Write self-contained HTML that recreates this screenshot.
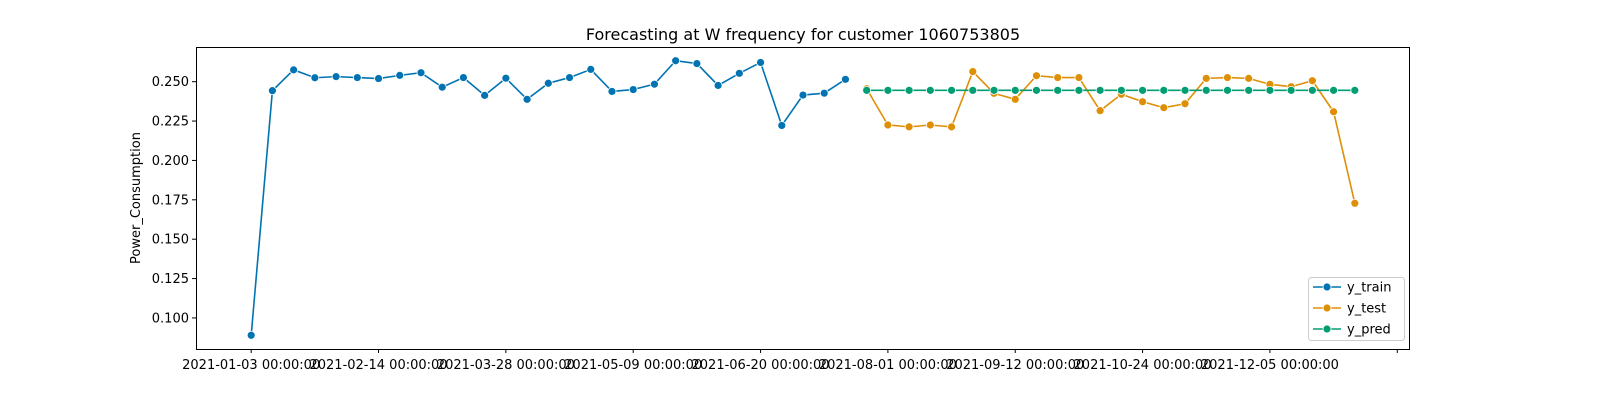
<!DOCTYPE html>
<html><head><meta charset="utf-8"><style>
body{margin:0;background:#fff;}
svg text{font-family:"DejaVu Sans","Liberation Sans",sans-serif;}
</style></head><body>
<svg id="chart" width="1600" height="400" xmlns="http://www.w3.org/2000/svg">
<rect width="1600" height="400" fill="#fff"/>
<text x="803" y="40" font-size="16" text-anchor="middle">Forecasting at W frequency for customer 1060753805</text>
<text x="0" y="0" font-size="13" text-anchor="middle" transform="translate(140,198) rotate(-90)">Power_Consumption</text>
<g id="grid"></g>
<g id="marks"></g>
<rect x="196.5" y="47.5" width="1213" height="302" fill="none" stroke="#000" stroke-width="1"/>
<g id="legend"></g>
</svg>
<script>
const startDate = "2021-01-03";
const yTrain = [0.089,0.2443,0.2575,0.2525,0.2532,0.2526,0.252,0.254,0.2557,0.2465,0.2526,0.2413,0.2522,0.2388,0.249,0.2526,0.2578,0.2438,0.245,0.2484,0.2633,0.2615,0.2476,0.2553,0.2622,0.2222,0.2415,0.2427,0.2515];
const yTest = [0.2455,0.2225,0.2213,0.2225,0.2213,0.2564,0.2426,0.2388,0.2538,0.2526,0.2526,0.2316,0.2420,0.2373,0.2335,0.2360,0.2521,0.2526,0.2521,0.2483,0.2468,0.2506,0.2309,0.1728];
const yPred = [0.2445,0.2445,0.2445,0.2445,0.2445,0.2445,0.2445,0.2445,0.2445,0.2445,0.2445,0.2445,0.2445,0.2445,0.2445,0.2445,0.2445,0.2445,0.2445,0.2445,0.2445,0.2445,0.2445,0.2445];
const yTicks = [0.100,0.125,0.150,0.175,0.200,0.225,0.250];
const xTickWeeks = [0,6,12,18,24,30,36,42,48,54];
const xTickLabels = ["2021-01-03 00:00:00","2021-02-14 00:00:00","2021-03-28 00:00:00","2021-05-09 00:00:00","2021-06-20 00:00:00","2021-08-01 00:00:00","2021-09-12 00:00:00","2021-10-24 00:00:00","2021-12-05 00:00:00",""];

const NS="http://www.w3.org/2000/svg";
const L=196,R=1410,T=47,B=349;
const nTotal=yTrain.length+yTest.length;
const xMin=-0.05*(nTotal-1), xMax=(nTotal-1)*1.05;
const allV=yTrain.concat(yTest,yPred);
const vMin=Math.min(...allV), vMax=Math.max(...allV), pad=(vMax-vMin)*0.05;
const yMin=vMin-pad, yMax=vMax+pad;
const xs=i=>L+(i-xMin)/(xMax-xMin)*(R-L);
const ys=v=>B-(v-yMin)/(yMax-yMin)*(B-T);
function mk(tag,attrs,parent){const e=document.createElementNS(NS,tag);for(const k in attrs)e.setAttribute(k,attrs[k]);parent.appendChild(e);return e;}
const grid=document.getElementById('grid');
yTicks.forEach(v=>{
  const y=ys(v);
  const t=mk('line',{x1:L-4,x2:L,y1:y,y2:y,stroke:'#000'},grid);
  
  
  const tx=mk('text',{x:L-7,y:y+4.5,'font-size':13,'text-anchor':'end'},grid);
  
  
  tx.textContent=v.toFixed(3);
});
xTickWeeks.forEach((w,k)=>{
  const x=xs(w);
  const t=mk('line',{x1:x,x2:x,y1:B,y2:B+4,stroke:'#000'},grid);
  
  
  const tx=mk('text',{x:x,y:B+20,'font-size':13,'text-anchor':'middle'},grid);
  
  
  tx.textContent=xTickLabels[k];
});
const marks=document.getElementById('marks');
function series(vals,off,color,name){
  const g=mk('g',{},marks);
  
  
  const pts=vals.map((v,i)=>xs(i+off)+','+ys(v)).join(' ');
  const pl=mk('polyline',{points:pts,fill:'none',stroke:color,'stroke-width':1.6},g);
  
  
  vals.forEach((v,i)=>{
    const c=mk('circle',{cx:xs(i+off),cy:ys(v),r:4,fill:color,stroke:'#fff','stroke-width':0.8},g);
    
    
  });
}
series(yTrain,0,'#0173b2','y-train');
series(yTest,yTrain.length,'#de8f05','y-test');
series(yPred,yTrain.length,'#029e73','y-pred');
const lg=document.getElementById('legend');
mk('rect',{x:1308.5,y:277.5,width:96,height:63,rx:3,fill:'#fff','fill-opacity':0.8,stroke:'#ccc'},lg);
[['y_train','#0173b2'],['y_test','#de8f05'],['y_pred','#029e73']].forEach((e,i)=>{
  const y=287+i*21;
  const g=mk('g',{},lg);
  
  
  mk('line',{x1:1313,x2:1341,y1:y,y2:y,stroke:e[1],'stroke-width':1.6},g);
  mk('circle',{cx:1327,cy:y,r:4,fill:e[1],stroke:'#fff','stroke-width':0.8},g);
  const t=mk('text',{x:1347,y:y+4.5,'font-size':13},g);
  t.textContent=e[0];
});
</script>
</body></html>
